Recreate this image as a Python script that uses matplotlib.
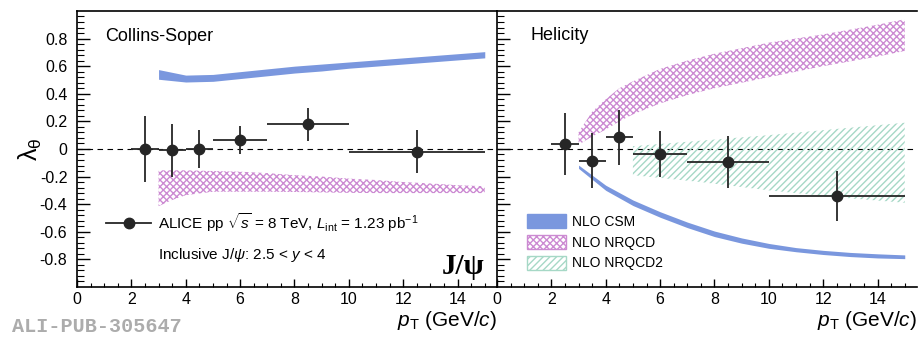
import matplotlib
matplotlib.use("Agg")
import matplotlib.pyplot as plt
from matplotlib.lines import Line2D
from matplotlib.patches import Patch
import numpy as np

# measured points (same pT bins for both frames)
pt = [2.5, 3.5, 4.5, 6.0, 8.5, 12.5]
pt_lo = [2, 3, 4, 5, 7, 10]
pt_hi = [3, 4, 5, 7, 10, 15]

cs_lam = [0.0, -0.01, 0.0, 0.063, 0.178, -0.022]
cs_up = [0.24, 0.19, 0.14, 0.10, 0.117, 0.156]
cs_dn = [0.237, 0.19, 0.14, 0.10, 0.122, 0.154]

hx_lam = [0.037, -0.088, 0.085, -0.037, -0.095, -0.34]
hx_up = [0.22, 0.20, 0.195, 0.167, 0.19, 0.18]
hx_dn = [0.227, 0.197, 0.20, 0.163, 0.185, 0.18]

# model bands
csm_x = [3, 4, 5, 6, 7, 8, 9, 10, 11, 12, 13, 14, 15]
csm_cs_hi = [0.575, 0.535, 0.54, 0.56, 0.58, 0.60, 0.615, 0.63, 0.645, 0.66, 0.675, 0.69, 0.705]
csm_cs_lo = [0.505, 0.485, 0.49, 0.51, 0.53, 0.55, 0.565, 0.585, 0.60, 0.615, 0.63, 0.645, 0.66]
csm_hx_hi = [-0.117, -0.263, -0.37, -0.455, -0.53, -0.595, -0.645, -0.685, -0.715, -0.735, -0.75, -0.76, -0.768]
csm_hx_lo = [-0.141, -0.30, -0.41, -0.495, -0.57, -0.635, -0.683, -0.72, -0.745, -0.765, -0.78, -0.79, -0.795]

nrqcd_cs_x = [3, 3.5, 4, 5, 6, 7, 8, 9, 10, 11, 12, 13, 14, 15]
nrqcd_cs_hi = [-0.155, -0.155, -0.155, -0.16, -0.165, -0.175, -0.19, -0.2, -0.215, -0.225, -0.24, -0.25, -0.263, -0.27]
nrqcd_cs_lo = [-0.415, -0.37, -0.335, -0.31, -0.31, -0.31, -0.312, -0.315, -0.318, -0.32, -0.32, -0.32, -0.32, -0.32]

nrqcd_hx_x = [3, 3.5, 4, 4.5, 5, 6, 7, 8, 10, 12, 14, 15]
nrqcd_hx_lo = [0.03, 0.09, 0.14, 0.20, 0.25, 0.33, 0.39, 0.44, 0.52, 0.60, 0.67, 0.71]
nrqcd_hx_hi = [0.12, 0.27, 0.36, 0.44, 0.49, 0.58, 0.64, 0.69, 0.77, 0.83, 0.90, 0.94]

nrqcd2_hx_x = [5, 7.5, 10, 12.5, 15]
nrqcd2_hx_hi = [0.02, 0.06, 0.10, 0.145, 0.19]
nrqcd2_hx_lo = [-0.19, -0.24, -0.30, -0.35, -0.39]

yticks = [-0.8, -0.6, -0.4, -0.2, 0, 0.2, 0.4, 0.6, 0.8]
ytick_labels = ["-0.8", "-0.6", "-0.4", "-0.2", "0", "0.2", "0.4", "0.6", "0.8"]
xticks = [0, 2, 4, 6, 8, 10, 12, 14]

BLUE = "#7a97de"
PINK = "#cc8ad2"
GREEN = "#a6d8c6"
BLACK = "#262626"

plt.rcParams["font.family"] = ["Liberation Sans", "DejaVu Sans"]
plt.rcParams["mathtext.fontset"] = "custom"
plt.rcParams["mathtext.rm"] = "Liberation Sans"
plt.rcParams["mathtext.it"] = "Liberation Sans:italic"
plt.rcParams["axes.unicode_minus"] = False
plt.rcParams["hatch.linewidth"] = 1.0


def style_axes(ax, show_ylabels):
    ax.set_xlim(0, 15.45)
    ax.set_ylim(-1.0, 1.0)
    ax.set_xticks(xticks)
    ax.set_xticks(np.arange(0, 15.01, 0.5), minor=True)
    ax.set_yticks(yticks)
    ax.set_yticks(np.arange(-0.96, 0.97, 0.04), minor=True)
    if show_ylabels:
        ax.set_yticklabels(ytick_labels)
    else:
        ax.set_yticklabels([])
    ax.tick_params(axis="both", which="both", direction="in", top=False, right=False)
    ax.tick_params(axis="y", which="major", length=9, width=1.0, pad=7, labelsize=11.5)
    ax.tick_params(axis="y", which="minor", length=5, width=0.8)
    ax.tick_params(axis="x", which="major", length=6, width=1.0, pad=4, labelsize=11.5)
    ax.tick_params(axis="x", which="minor", length=3, width=0.8)
    ax.spines["right"].set_visible(False)
    for s in ["left", "bottom", "top"]:
        ax.spines[s].set_linewidth(1.2)
    ax.axhline(0, color="black", lw=0.8, ls=(0, (5, 4)), zorder=1)
    ax.set_xlabel(r"$p_{\rm T}$ (GeV/$c$)", loc="right", fontsize=15, labelpad=1)


def draw_points(ax, lam, up, dn):
    xerr = [np.subtract(pt, pt_lo), np.subtract(pt_hi, pt)]
    ax.errorbar(pt, lam, xerr=xerr, yerr=[dn, up], fmt="o", color=BLACK,
                ms=7.5, elinewidth=1.3, capsize=0, zorder=5)


fig = plt.figure(figsize=(9.19, 3.42), dpi=100)
ax1 = fig.add_axes([0.0838, 0.161, 0.457, 0.807])
ax2 = fig.add_axes([0.5408, 0.161, 0.457, 0.807])

# Collins-Soper
ax1.fill_between(csm_x, csm_cs_lo, csm_cs_hi, color=BLUE, lw=0, zorder=2)
ax1.fill_between(nrqcd_cs_x, nrqcd_cs_lo, nrqcd_cs_hi, facecolor="none",
                 edgecolor=PINK, hatch="xxxxx", lw=0, zorder=2)
draw_points(ax1, cs_lam, cs_up, cs_dn)
style_axes(ax1, True)
ax1.text(0.067, 0.906, "Collins-Soper", transform=ax1.transAxes, fontsize=13, va="center")
alice = Line2D([], [], color=BLACK, marker="o", ms=7.5, lw=1.3)
ax1.legend([alice], [r"ALICE pp $\sqrt{s}$ = 8 TeV, $L_{\rm int}$ = 1.23 pb$^{-1}$"],
           loc="center left", bbox_to_anchor=(0.07, 0.235), frameon=False,
           fontsize=11, handlelength=2.9, handletextpad=0.5, borderpad=0, borderaxespad=0)
ax1.text(0.193, 0.116, r"Inclusive J/$\psi$: 2.5 < $y$ < 4", transform=ax1.transAxes,
         fontsize=11, va="center")
ax1.text(0.97, 0.075, "J/ψ", transform=ax1.transAxes, fontsize=21, ha="right",
         va="center", weight="bold", family=["Liberation Serif", "DejaVu Serif"])

# Helicity
ax2.fill_between(nrqcd_hx_x, nrqcd_hx_lo, nrqcd_hx_hi, facecolor="none",
                 edgecolor=PINK, hatch="xxxxx", lw=0, zorder=2)
ax2.fill_between(nrqcd2_hx_x, nrqcd2_hx_lo, nrqcd2_hx_hi, facecolor="none",
                 edgecolor=GREEN, hatch="/////", lw=0, zorder=2)
ax2.fill_between(csm_x, csm_hx_lo, csm_hx_hi, color=BLUE, lw=0, zorder=2)
draw_points(ax2, hx_lam, hx_up, hx_dn)
style_axes(ax2, False)
ax2.text(0.079, 0.91, "Helicity", transform=ax2.transAxes, fontsize=13, va="center")
handles = [Patch(facecolor=BLUE, edgecolor=BLUE),
           Patch(facecolor="none", edgecolor=PINK, hatch="xxxxx"),
           Patch(facecolor="none", edgecolor=GREEN, hatch="/////")]
ax2.legend(handles, ["NLO CSM", "NLO NRQCD", "NLO NRQCD2"], loc="lower left",
           bbox_to_anchor=(0.072, 0.06), frameon=False, fontsize=10,
           handlelength=2.8, handleheight=1.15, labelspacing=0.45,
           handletextpad=0.4, borderpad=0, borderaxespad=0)

fig.text(0.033, 0.564, r"$\mathrm{\lambda}_{\mathrm{\theta}}$", rotation=90, fontsize=18,
         ha="center", va="center")
fig.text(0.013, 0.045, "ALI-PUB-305647", fontsize=14.5, color="#acacac",
         family=["Liberation Mono", "DejaVu Sans Mono"], weight="bold", va="center")

fig.savefig("out.png", dpi=100)
